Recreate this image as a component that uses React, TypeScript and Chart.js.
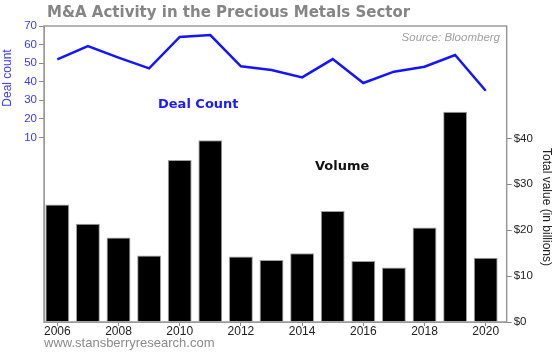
import { useEffect, useRef } from 'react';
import Chart from 'chart.js/auto';

const years = [2006, 2007, 2008, 2009, 2010, 2011, 2012, 2013, 2014, 2015, 2016, 2017, 2018, 2019, 2020];
const dealCount = [52.0, 59.2, 53.0, 47.2, 64.1, 65.1, 48.3, 46.3, 42.3, 52.2, 39.3, 45.4, 48.1, 54.4, 35.1];
const volume = [25.6, 21.4, 18.4, 14.5, 35.3, 39.6, 14.3, 13.5, 15.0, 24.2, 13.3, 11.9, 20.6, 45.8, 14.0];
const leftTicks = [10, 20, 30, 40, 50, 60, 70];
const rightTicks = [0, 10, 20, 30, 40];
const xTicks = [2006, 2008, 2010, 2012, 2014, 2016, 2018, 2020];

const TITLE = 'M&A Activity in the Precious Metals Sector';
const SOURCE = 'Source: Bloomberg';
const URL_TEXT = 'www.stansberryresearch.com';
const LEFT_TITLE = 'Deal count';
const RIGHT_TITLE = 'Total value (in billions)';
const LINE_LABEL = 'Deal Count';
const BAR_LABEL = 'Volume';

const textPlugin = {
  id: 'textPlugin',
  afterDraw(chart: any) {
    const ctx = chart.ctx;
    const a = chart.chartArea;
    ctx.save();
    ctx.strokeStyle = '#9a9a9a';
    ctx.lineWidth = 1.5;
    ctx.strokeRect(a.left, a.top, a.right - a.left, a.bottom - a.top);

    ctx.textBaseline = 'alphabetic';
    ctx.textAlign = 'left';
    ctx.fillStyle = '#858585';
    ctx.font = 'bold 15px "DejaVu Sans"';
    ctx.fillText(TITLE, 47, 17);

    ctx.textAlign = 'right';
    ctx.fillStyle = '#a0a0a0';
    ctx.font = 'italic 11.5px "Liberation Sans"';
    ctx.fillText(SOURCE, 500, 40.5);

    ctx.textAlign = 'left';
    ctx.fillStyle = '#1a1aff';
    ctx.font = 'bold 13px "DejaVu Sans"';
    ctx.fillText(LINE_LABEL, 158, 107.5);

    ctx.fillStyle = '#111111';
    ctx.fillText(BAR_LABEL, 315, 170);

    ctx.fillStyle = '#8a8a8a';
    ctx.font = '13px "Liberation Sans"';
    ctx.fillText(URL_TEXT, 44, 347);

    ctx.textAlign = 'center';
    ctx.textBaseline = 'middle';
    ctx.font = '12px "Liberation Sans"';
    ctx.fillStyle = '#3a3aff';
    ctx.save();
    ctx.translate(7.5, 78);
    ctx.rotate(-Math.PI / 2);
    ctx.fillText(LEFT_TITLE, 0, 0);
    ctx.restore();

    ctx.fillStyle = '#222222';
    ctx.save();
    ctx.translate(546, 207);
    ctx.rotate(Math.PI / 2);
    ctx.fillText(RIGHT_TITLE, 0, 0);
    ctx.restore();
    ctx.restore();
  },
};

export default function App() {
  const ref = useRef<HTMLCanvasElement | null>(null);
  useEffect(() => {
    const canvas = ref.current;
    if (!canvas) return;
    const chart = new Chart(canvas, {
      type: 'bar',
      data: {
        datasets: [
          {
            type: 'line',
            label: LINE_LABEL,
            data: years.map((x, i) => ({ x, y: dealCount[i] })),
            xAxisID: 'x',
            yAxisID: 'yL',
            borderColor: '#1414ff',
            borderWidth: 2.5,
            pointRadius: 0,
            tension: 0,
            order: 0,
          } as any,
          {
            type: 'bar',
            label: BAR_LABEL,
            data: years.map((x, i) => ({ x, y: volume[i] })),
            xAxisID: 'x',
            yAxisID: 'yR',
            backgroundColor: '#000000',
            borderColor: '#a0a0a0',
            borderWidth: 1,
            barPercentage: 0.78,
            categoryPercentage: 1,
            order: 1,
          } as any,
        ],
      },
      options: {
        animation: false,
        responsive: false,
        layout: { padding: { top: 26, left: 0, right: 0, bottom: 0 } },
        plugins: { legend: { display: false }, tooltip: { enabled: false }, title: { display: false } },
        scales: {
          x: {
            type: 'linear',
            offset: false,
            min: 2005.565,
            max: 2020.686,
            afterBuildTicks: (s: any) => { s.ticks = xTicks.map((v) => ({ value: v })); },
            afterFit: (s: any) => { s.height = 31; },
            grid: { drawOnChartArea: false, offset: false, tickLength: 4, tickColor: '#888' },
            border: { color: '#9a9a9a' },
            ticks: {
              callback: (v: any) => String(v),
              color: '#222',
              font: { family: '"Liberation Sans"', size: 12 },
              padding: -2,
              maxRotation: 0,
              autoSkip: false,
            },
          },
          yL: {
            type: 'linear',
            position: 'left',
            min: -89.4,
            max: 70,
            afterBuildTicks: (s: any) => { s.ticks = leftTicks.map((v) => ({ value: v })); },
            afterFit: (s: any) => { s.width = 44; },
            grid: { drawOnChartArea: false, tickLength: 5, tickColor: '#888' },
            border: { color: '#9a9a9a' },
            ticks: {
              callback: (v: any) => String(v),
              color: '#3a3aff',
              font: { family: '"Liberation Sans"', size: 11.5 },
              padding: 2,
            },
          },
          yR: {
            type: 'linear',
            position: 'right',
            min: 0,
            max: 64.5,
            afterBuildTicks: (s: any) => { s.ticks = rightTicks.map((v) => ({ value: v })); },
            afterFit: (s: any) => { s.width = 46.3; },
            grid: { drawOnChartArea: false, tickLength: 5, tickColor: '#888' },
            border: { color: '#9a9a9a' },
            ticks: {
              callback: (v: any) => '$' + v,
              color: '#222',
              font: { family: '"Liberation Sans"', size: 11.5 },
              padding: 2,
            },
          },
        },
      },
      plugins: [textPlugin],
    });
    return () => chart.destroy();
  }, []);
  return (
    <div style={{ position: 'absolute', left: 0, top: 0, width: 553, height: 353, background: '#fff' }}>
      <canvas ref={ref} width={553} height={353} style={{ display: 'block' }} />
    </div>
  );
}
